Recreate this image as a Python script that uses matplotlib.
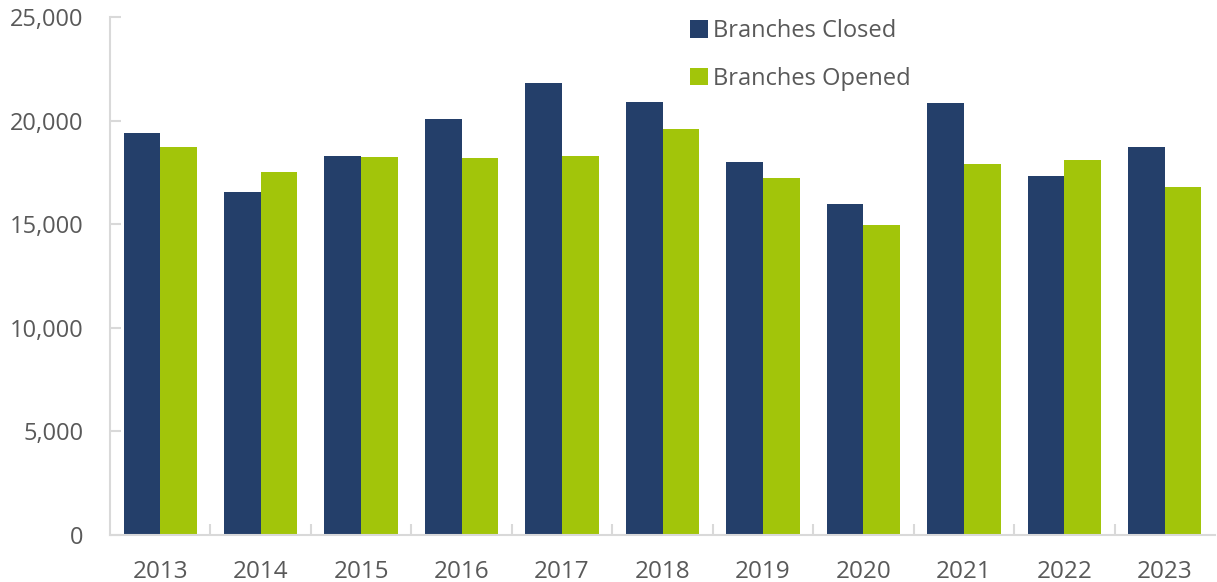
import numpy as np
import matplotlib.pyplot as plt
from matplotlib.ticker import FuncFormatter

# Data
years = ['2013', '2014', '2015', '2016', '2017', '2018', '2019', '2020', '2021', '2022', '2023']
closed = [19400, 16550, 18290, 20080, 21800, 20900, 18000, 15970, 20850, 17330, 18730]
opened = [18730, 17520, 18240, 18190, 18290, 19590, 17230, 14960, 17910, 18100, 16800]

navy = '#243F6A'
green = '#A2C50A'
grey_text = '#595959'
axis_grey = '#D9D9D9'

plt.rcParams['font.family'] = ['Open Sans', 'DejaVu Sans']

fig = plt.figure(figsize=(12.17, 5.82), dpi=100)
ax = fig.add_axes([110 / 1217, 47 / 582, 1105 / 1217, 518 / 582])

x = np.arange(len(years))
w = 0.365
ax.bar(x - w / 2, closed, w, color=navy, label='Branches Closed')
ax.bar(x + w / 2, opened, w, color=green, label='Branches Opened')

ax.set_xlim(-0.5, len(years) - 0.5)
ax.set_ylim(0, 25000)
ax.set_yticks(np.arange(0, 25001, 5000))
ax.yaxis.set_major_formatter(FuncFormatter(lambda v, p: f'{int(v):,}'))

# category labels in the middle, tick marks between categories
ax.set_xticks(x)
ax.set_xticklabels(years)
ax.set_xticks(np.arange(0.5, len(years) - 0.5, 1), minor=True)
ax.tick_params(axis='x', which='major', length=0, pad=18, labelsize=17.5, labelcolor=grey_text)
ax.tick_params(axis='x', which='minor', direction='in', length=8, width=1.5, color=axis_grey)
ax.tick_params(axis='y', direction='in', length=8, width=1.5, color=axis_grey,
               pad=19, labelsize=17, labelcolor=grey_text)

for s in ['top', 'right']:
    ax.spines[s].set_visible(False)
for s in ['left', 'bottom']:
    ax.spines[s].set_color(axis_grey)
    ax.spines[s].set_linewidth(1.5)

fig.legend(loc='upper left', bbox_to_anchor=(669 / 1217, 1 + 2 / 582), frameon=False,
           fontsize=17, labelcolor=grey_text, handlelength=0.75, handleheight=0.75,
           handletextpad=0.22, labelspacing=1.0)

fig.savefig('out.png', dpi=100)
